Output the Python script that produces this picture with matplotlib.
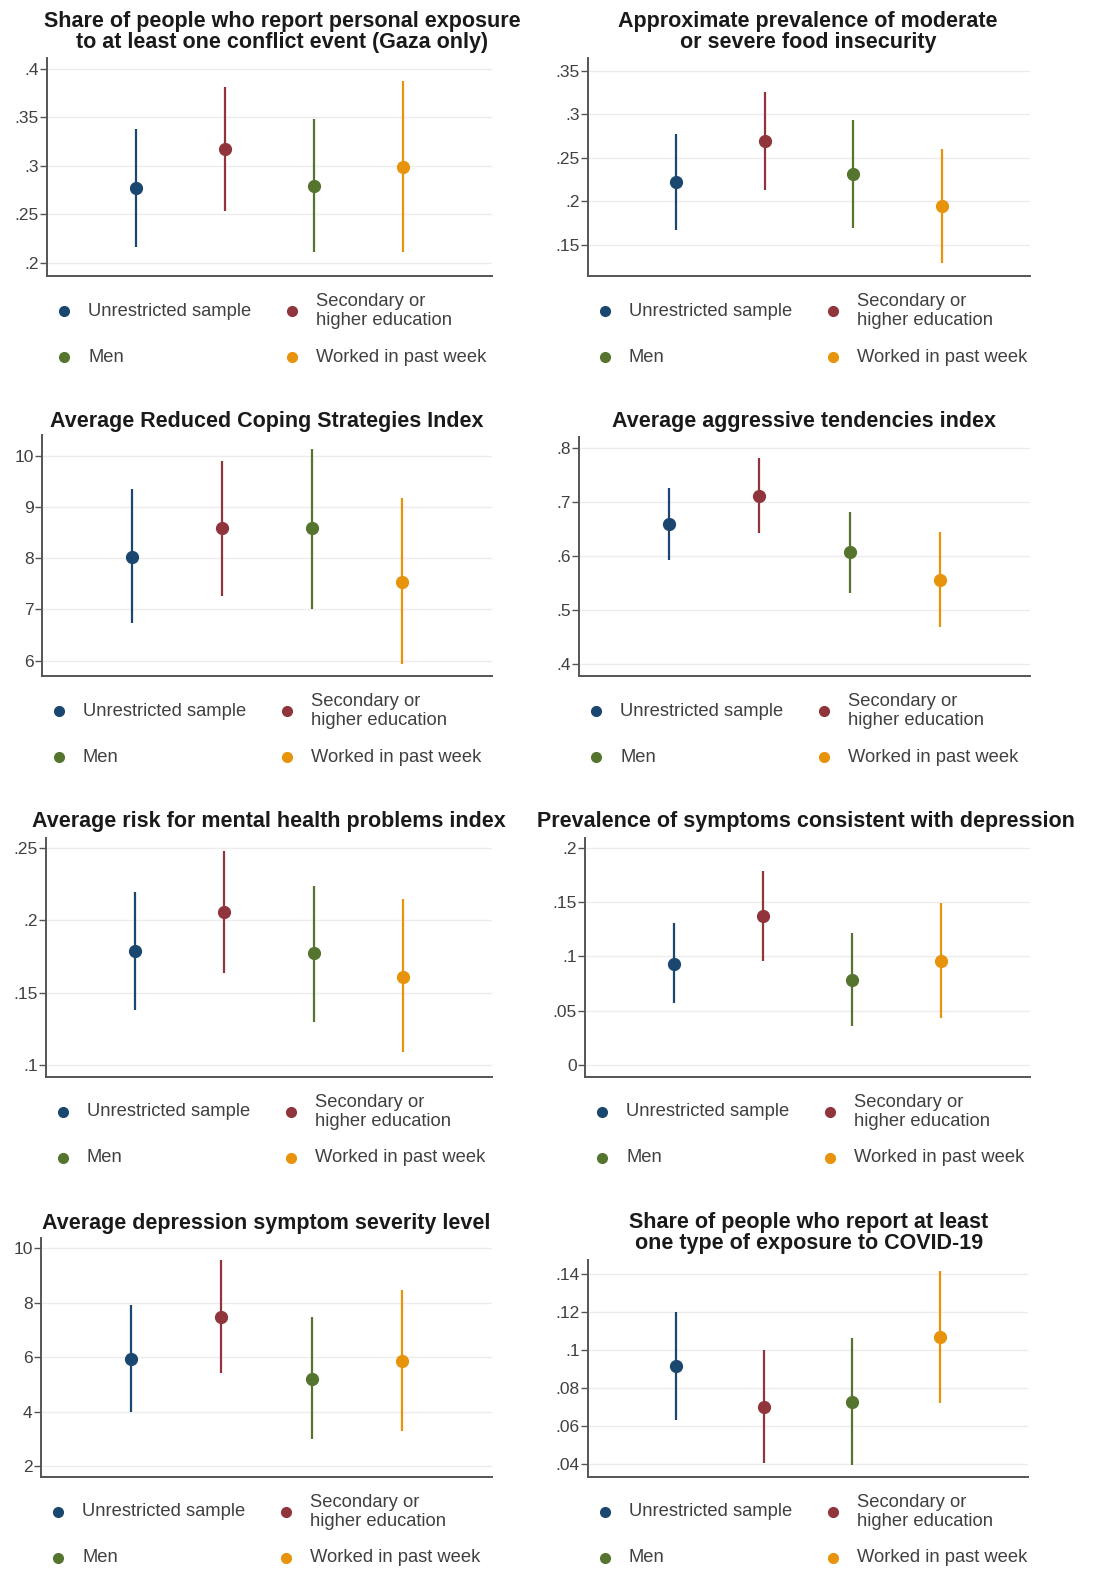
import matplotlib.pyplot as plt
import numpy as np

plt.rcParams['font.family'] = ['Liberation Sans', 'DejaVu Sans']

W, H = 1107, 1570

groups = ['Unrestricted sample', 'Secondary or\nhigher education', 'Men', 'Worked in past week']
colors = ['#1a476f', '#90353b', '#55752f', '#e8930c']
positions = [1, 2, 3, 4]

# point estimates and 95% intervals, one list per outcome
conflict_mean = [0.277, 0.3175, 0.279, 0.299]
conflict_lo = [0.2165, 0.2536, 0.211, 0.211]
conflict_hi = [0.338, 0.381, 0.348, 0.3876]

food_mean = [0.222, 0.2695, 0.2316, 0.195]
food_lo = [0.167, 0.213, 0.1695, 0.129]
food_hi = [0.2776, 0.326, 0.2937, 0.260]

rcsi_mean = [8.02, 8.59, 8.59, 7.53]
rcsi_lo = [6.73, 7.27, 7.00, 5.94]
rcsi_hi = [9.35, 9.90, 10.14, 9.18]

aggr_mean = [0.659, 0.711, 0.607, 0.556]
aggr_lo = [0.593, 0.643, 0.531, 0.469]
aggr_hi = [0.726, 0.781, 0.681, 0.644]

mental_mean = [0.179, 0.2057, 0.1774, 0.1608]
mental_lo = [0.138, 0.1636, 0.130, 0.109]
mental_hi = [0.2196, 0.248, 0.2237, 0.2147]

depr_mean = [0.0931, 0.1373, 0.0783, 0.0959]
depr_lo = [0.0571, 0.0959, 0.036, 0.0433]
depr_hi = [0.1309, 0.1788, 0.1217, 0.1493]

sever_mean = [5.93, 7.47, 5.19, 5.85]
sever_lo = [3.98, 5.41, 2.99, 3.28]
sever_hi = [7.91, 9.56, 7.47, 8.46]

covid_mean = [0.0916, 0.070, 0.0726, 0.1068]
covid_lo = [0.0632, 0.0405, 0.0395, 0.0721]
covid_hi = [0.120, 0.100, 0.1063, 0.1416]

panels = [
    dict(title='Share of people who report personal exposure\nto at least one conflict event (Gaza only)',
         mean=conflict_mean, lo=conflict_lo, hi=conflict_hi,
         ticks=[0.2, 0.25, 0.3, 0.35, 0.4], labels=['.2', '.25', '.3', '.35', '.4'],
         ylim=(0.1866, 0.411), box=(47, 58, 492, 276), tpos=(282, 32)),
    dict(title='Approximate prevalence of moderate\nor severe food insecurity',
         mean=food_mean, lo=food_lo, hi=food_hi,
         ticks=[0.15, 0.2, 0.25, 0.3, 0.35], labels=['.15', '.2', '.25', '.3', '.35'],
         ylim=(0.114, 0.365), box=(588, 58, 1030, 276), tpos=(808, 32)),
    dict(title='Average Reduced Coping Strategies Index',
         mean=rcsi_mean, lo=rcsi_lo, hi=rcsi_hi,
         ticks=[6, 7, 8, 9, 10], labels=['6', '7', '8', '9', '10'],
         ylim=(5.70, 10.41), box=(42, 435, 492, 676), tpos=(267, 421)),
    dict(title='Average aggressive tendencies index',
         mean=aggr_mean, lo=aggr_lo, hi=aggr_hi,
         ticks=[0.4, 0.5, 0.6, 0.7, 0.8], labels=['.4', '.5', '.6', '.7', '.8'],
         ylim=(0.378, 0.82), box=(579, 437, 1030, 676), tpos=(804, 421)),
    dict(title='Average risk for mental health problems index',
         mean=mental_mean, lo=mental_lo, hi=mental_hi,
         ticks=[0.1, 0.15, 0.2, 0.25], labels=['.1', '.15', '.2', '.25'],
         ylim=(0.0917, 0.257), box=(46, 838, 492, 1077), tpos=(269, 822)),
    dict(title='Prevalence of symptoms consistent with depression',
         mean=depr_mean, lo=depr_lo, hi=depr_hi,
         ticks=[0, 0.05, 0.1, 0.15, 0.2], labels=['0', '.05', '.1', '.15', '.2'],
         ylim=(-0.011, 0.209), box=(585, 838, 1030, 1077), tpos=(806, 822)),
    dict(title='Average depression symptom severity level',
         mean=sever_mean, lo=sever_lo, hi=sever_hi,
         ticks=[2, 4, 6, 8, 10], labels=['2', '4', '6', '8', '10'],
         ylim=(1.6, 10.37), box=(41, 1238, 492, 1477), tpos=(266, 1223)),
    dict(title='Share of people who report at least\none type of exposure to COVID-19',
         mean=covid_mean, lo=covid_lo, hi=covid_hi,
         ticks=[0.04, 0.06, 0.08, 0.1, 0.12, 0.14], labels=['.04', '.06', '.08', '.1', '.12', '.14'],
         ylim=(0.0332, 0.1474), box=(588, 1260, 1028, 1477), tpos=(809, 1233)),
]

fig = plt.figure(figsize=(W / 100, H / 100), dpi=100)
fig.patch.set_facecolor('white')

axis_color = '#555555'
text_color = '#404040'

for p in panels:
    x0, y0, x1, y1 = p['box']
    ax = fig.add_axes([x0 / W, 1 - y1 / H, (x1 - x0) / W, (y1 - y0) / H])
    for i, x in enumerate(positions):
        m, lo, hi = p['mean'][i], p['lo'][i], p['hi'][i]
        ax.errorbar([x], [m], yerr=[[m - lo], [hi - m]], fmt='o', color=colors[i],
                    ms=8.5, elinewidth=1.6, capsize=0, zorder=3)
    ax.set_xlim(0, 5)
    ax.set_ylim(*p['ylim'])
    ax.set_xticks([])
    ax.set_yticks(p['ticks'])
    ax.set_yticklabels(p['labels'])
    ax.tick_params(axis='y', length=5, width=1, color=axis_color, labelsize=12.5,
                   labelcolor=text_color, pad=1)
    ax.grid(axis='y', color='#ececec', lw=1)
    ax.set_axisbelow(True)
    for side in ['top', 'right']:
        ax.spines[side].set_visible(False)
    for side in ['left', 'bottom']:
        ax.spines[side].set_color(axis_color)
        ax.spines[side].set_linewidth(1.4)

    tx, ty = p['tpos']
    fig.text(tx / W, 1 - ty / H, p['title'], ha='center', va='center', fontsize=15.5,
             fontweight='bold', color='#1a1a1a', linespacing=1.0)

    # legend laid out in two rows of two entries
    row1 = y1 + 35
    row2 = y1 + 81
    entries = [(x0 + 17, row1, 0), (x0 + 245, row1, 1), (x0 + 17, row2, 2), (x0 + 245, row2, 3)]
    for mx, my, k in entries:
        fig.lines.append(plt.Line2D([mx / W], [1 - my / H], marker='o', ms=7, color=colors[k],
                                    linestyle='none', transform=fig.transFigure, figure=fig))
        fig.text((mx + 24) / W, 1 - my / H, groups[k], ha='left', va='center',
                 fontsize=13.2, color=text_color, linespacing=1.12)

fig.savefig('out.png', dpi=100, facecolor='white')
